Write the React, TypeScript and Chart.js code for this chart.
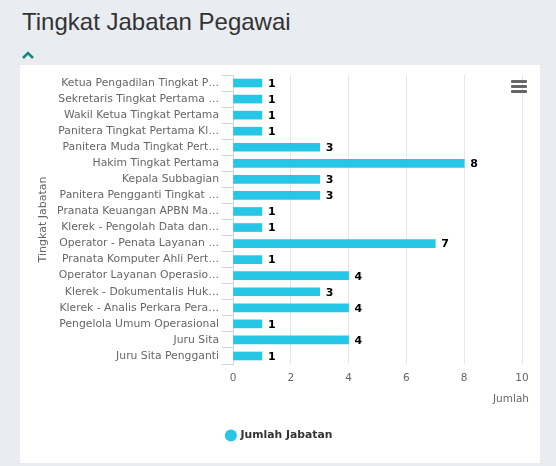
import React, { useEffect, useRef } from "react";
import { Chart, registerables } from "chart.js";

Chart.register(...registerables);

const categories: string[] = [
  "Ketua Pengadilan Tingkat P…",
  "Sekretaris Tingkat Pertama …",
  "Wakil Ketua Tingkat Pertama",
  "Panitera Tingkat Pertama Kl…",
  "Panitera Muda Tingkat Pert…",
  "Hakim Tingkat Pertama",
  "Kepala Subbagian",
  "Panitera Pengganti Tingkat …",
  "Pranata Keuangan APBN Ma…",
  "Klerek - Pengolah Data dan…",
  "Operator - Penata Layanan …",
  "Pranata Komputer Ahli Pert…",
  "Operator Layanan Operasio…",
  "Klerek - Dokumentalis Huk…",
  "Klerek - Analis Perkara Pera…",
  "Pengelola Umum Operasional",
  "Juru Sita",
  "Juru Sita Pengganti",
];
const values: number[] = [1, 1, 1, 1, 3, 8, 3, 3, 1, 1, 7, 1, 4, 3, 4, 1, 4, 1];
const seriesName = "Jumlah Jabatan";
const xTitle = "Jumlah";
const xMax = 10;
const xStep = 2;

const FONT = "'DejaVu Sans', 'Open Sans', sans-serif";
const BAR = "#26c6e6";

const dataLabels = {
  id: "dataLabels",
  afterDatasetsDraw(chart: any) {
    const ctx = chart.ctx;
    const meta = chart.getDatasetMeta(0);
    ctx.save();
    ctx.font = `bold 11px ${FONT}`;
    ctx.fillStyle = "#000";
    ctx.textBaseline = "middle";
    ctx.textAlign = "left";
    meta.data.forEach((el: any, i: number) => {
      ctx.fillText(String(values[i]), el.x + 6, el.y + 1);
    });
    // x-axis title, aligned just past the end of the axis
    const xs = chart.scales.x;
    ctx.font = `10.5px ${FONT}`;
    ctx.fillStyle = "#666";
    ctx.textAlign = "right";
    ctx.textBaseline = "middle";
    ctx.fillText(xTitle, chart.chartArea.right + 7, xs.bottom - 21);
    ctx.restore();
  },
};

export default function App() {
  const ref = useRef<HTMLCanvasElement>(null);
  useEffect(() => {
    document.body.style.margin = "0";
    document.body.style.background = "#e9edf2";
    const chart = new Chart(ref.current!, {
      type: "bar",
      data: {
        labels: categories,
        datasets: [
          {
            label: seriesName,
            data: values,
            backgroundColor: BAR,
            borderWidth: 0,
            barThickness: 8,
          },
        ],
      },
      plugins: [dataLabels],
      options: {
        indexAxis: "y",
        animation: false,
        responsive: true,
        maintainAspectRatio: false,
        layout: { padding: { left: 17, right: 18, top: 10, bottom: 12 } },
        plugins: {
          tooltip: { enabled: false },
          legend: {
            position: "bottom",
            labels: {
              usePointStyle: true,
              pointStyle: "circle",
              boxWidth: 8.5,
              boxHeight: 8.5,
              color: "#333",
              font: { family: FONT, size: 10.8, weight: "bold" },
              padding: 10,
            },
          },
        },
        scales: {
          x: {
            min: 0,
            max: xMax,
            ticks: { stepSize: xStep, color: "#666", font: { family: FONT, size: 10.5 }, padding: 8 },
            grid: { color: "#e6e6e6", drawTicks: false },
            border: { display: false },
            title: {
              display: true,
              text: xTitle,
              align: "end",
              color: "rgba(0,0,0,0)",
              font: { family: FONT, size: 10.5 },
              padding: { top: 1, bottom: 14 },
            },
          },
          y: {
            afterFit(scale: any) {
              scale.width = 196;
            },
            ticks: { color: "#666", font: { family: FONT, size: 10.8 }, padding: 3, autoSkip: false },
            grid: { offset: true, drawOnChartArea: false, color: "#ccd6eb", tickLength: 11 },
            border: { display: true, color: "#ccd6eb" },
            title: {
              display: true,
              text: "Tingkat Jabatan",
              color: "#666",
              font: { family: FONT, size: 11 },
              padding: 0,
            },
          },
        },
      },
    });
    return () => chart.destroy();
  }, []);

  return (
    <div style={{ position: "relative", width: 556, height: 466, fontFamily: FONT }}>
      <div
        style={{
          position: "absolute",
          left: 22,
          top: 8,
          fontSize: 24,
          color: "#333",
          fontFamily: "'Liberation Sans', Arial, sans-serif",
        }}
      >
        Tingkat Jabatan Pegawai
      </div>
      <svg style={{ position: "absolute", left: 21, top: 50 }} width="14" height="10">
        <polyline points="2,8 7,3 12,8" fill="none" stroke="#138a7b" strokeWidth="2.6" />
      </svg>
      <div
        style={{
          position: "absolute",
          left: 20,
          top: 65,
          width: 520,
          height: 398,
          background: "#fff",
        }}
      >
        <canvas ref={ref} />
        <div style={{ position: "absolute", left: 491, top: 15, width: 16 }}>
          {[0, 1, 2].map((i) => (
            <div key={i} style={{ height: 3, background: "#666", marginBottom: 2, borderRadius: 1 }} />
          ))}
        </div>
      </div>
    </div>
  );
}
